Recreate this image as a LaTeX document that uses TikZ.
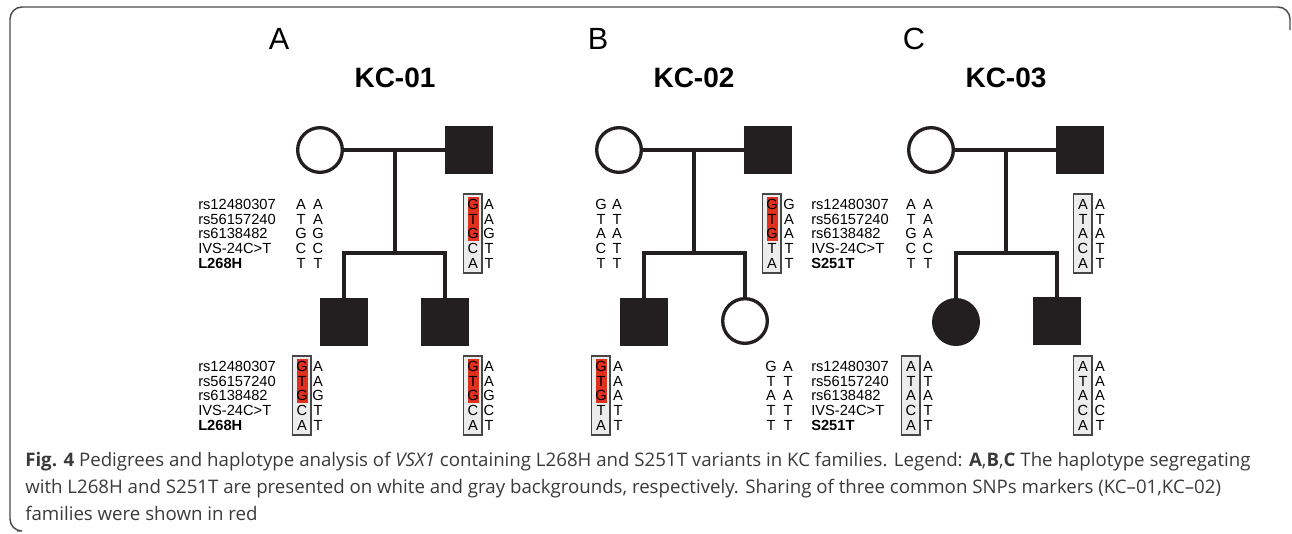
\documentclass[tikz,border=0pt]{standalone}
\usepackage{fontspec}
\setmainfont{Liberation Sans}
\newfontfamily\capfont{Open Sans}
\definecolor{pedblack}{HTML}{231F20}
\definecolor{hapred}{HTML}{E0301E}
\definecolor{boxgray}{HTML}{ECECEC}
\definecolor{captxt}{HTML}{3A3A3A}
\definecolor{framegray}{HTML}{4A4A4A}
\newcommand\hapcols[5]{% #1 name, #2 x1, #3 x2, #4 y0, #5 list
  \foreach \a/\b [count=\i from 0] in {#5} {
    \node[allele] (#1a\i) at (#2,{#4+\i*14.75}) {\a};
    \node[allele] (#1b\i) at (#3,{#4+\i*14.75}) {\b};
  }}
\newcommand\haplabels[4]{% #1 name, #2 x, #3 y0, #4 variant
  \foreach \t [count=\i from 0] in {rs12480307,rs56157240,rs6138482,IVS-24C>T,\textbf{#4}} {
    \node[lbl] (#1l\i) at (#2,{#3+\i*14.75}) {\t};
  }}
\newcommand\hapframe[2]{\draw[hapbox] ({#1-9.5},{#2-10}) rectangle ({#1+9},{#2+69});}
\newcommand\hapredfill[2]{\fill[hapred] ({#1-5.5},{#2-7}) rectangle ({#1+6},{#2+37});}
\begin{document}
\begin{tikzpicture}[x=0.75pt,y=-0.75pt,
  pline/.style={line width=3pt, draw=pedblack, line join=miter},
  msq/.style={rectangle, fill=pedblack, minimum size=36pt, inner sep=0pt},
  fcirc/.style={circle, draw=pedblack, line width=2.5pt, fill=white, minimum size=33.5pt, inner sep=0pt},
  acirc/.style={circle, fill=pedblack, minimum size=36pt, inner sep=0pt},
  allele/.style={font=\fontsize{11pt}{12pt}\selectfont, text height=7.9pt, text depth=0pt, inner sep=0pt, anchor=center},
  lbl/.style={allele, anchor=west},
  hapbox/.style={draw=black!72, line width=0.9pt, fill=boxgray},
  panel/.style={font=\fontsize{23pt}{26pt}\selectfont, inner sep=0pt},
  fam/.style={font=\fontsize{21pt}{24pt}\selectfont\bfseries, inner sep=0pt},
  capline/.style={font=\capfont\fontsize{14pt}{16pt}\selectfont, text=captxt, anchor=base west, inner sep=0pt}
]
\useasboundingbox (0,0) rectangle (1292,533);
% frame
\draw[framegray, line width=1.1pt, rounded corners=9pt] (1290,30) -- (1290,7) -- (10,7) -- (10,531) -- (17,531);

% titles
\node[panel] (tA) at (279,39) {A};
\node[panel] (tB) at (598,39) {B};
\node[panel] (tC) at (914,39) {C};
\node[fam] (kA) at (395,78) {KC-01};
\node[fam] (kB) at (694,78) {KC-02};
\node[fam] (kC) at (1006,78) {KC-03};

% ---------- Pedigree A ----------
\node[fcirc] (mA) at (320,150) {};
\node[msq] (fA) at (469,150) {};
\node[msq] (cA1) at (344,322) {};
\node[msq] (cA2) at (445,322) {};
\draw[pline] (mA) -- (fA);
\coordinate (dA) at (394.5,150);
\coordinate (sA) at (394.5,253);
\draw[pline] (dA) -- (sA);
\draw[pline] (cA1) |- (sA) -| (cA2);

% ---------- Pedigree B ----------
\node[fcirc] (mB) at (619,150) {};
\node[msq] (fB) at (768,150) {};
\node[msq] (cB1) at (644,322) {};
\node[fcirc] (cB2) at (745,321) {};
\draw[pline] (mB) -- (fB);
\coordinate (dB) at (693.5,150);
\coordinate (sB) at (693.5,253);
\draw[pline] (dB) -- (sB);
\draw[pline] (cB1) |- (sB) -| (cB2);

% ---------- Pedigree C ----------
\node[fcirc] (mC) at (931,150) {};
\node[msq] (fC) at (1080,150) {};
\node[acirc] (cC1) at (956,322) {};
\node[msq] (cC2) at (1057,321) {};
\draw[pline] (mC) -- (fC);
\coordinate (dC) at (1005.5,150);
\coordinate (sC) at (1005.5,253);
\draw[pline] (dC) -- (sC);
\draw[pline] (cC1) |- (sC) -| (cC2);

% ---------- haplotype frames ----------
\hapframe{473}{204} \hapredfill{473}{204}
\hapframe{302}{366} \hapredfill{302}{366}
\hapframe{473}{366} \hapredfill{473}{366}
\hapframe{772}{204} \hapredfill{772}{204}
\hapframe{601}{366} \hapredfill{601}{366}
\hapframe{1083}{204}
\hapframe{911}{366}
\hapframe{1083}{366}

% ---------- haplotype texts ----------
\haplabels{LA1}{198}{204}{L268H}
\haplabels{LA2}{198}{366}{L268H}
\haplabels{LC1}{811}{204}{S251T}
\haplabels{LC2}{811}{366}{S251T}

\hapcols{hmA}{301}{318}{204}{A/A,T/A,G/G,C/C,T/T}
\hapcols{hfA}{473}{489}{204}{G/A,T/A,G/G,C/T,A/T}
\hapcols{hcAa}{302}{318}{366}{G/A,T/A,G/G,C/T,A/T}
\hapcols{hcAb}{473}{489}{366}{G/A,T/A,G/G,C/C,A/T}

\hapcols{hmB}{601}{617}{204}{G/A,T/T,A/A,C/T,T/T}
\hapcols{hfB}{772}{789}{204}{G/G,T/A,G/A,T/T,A/T}
\hapcols{hcBa}{601}{618}{366}{G/A,T/A,G/A,T/T,A/T}
\hapcols{hcBb}{771}{788}{366}{G/A,T/T,A/A,T/T,T/T}

\hapcols{hmC}{911}{928}{204}{A/A,T/A,G/A,C/C,T/T}
\hapcols{hfC}{1083}{1100}{204}{A/A,T/T,A/A,C/T,A/T}
\hapcols{hcCa}{911}{928}{366}{A/A,T/T,A/A,C/T,A/T}
\hapcols{hcCb}{1083}{1100}{366}{A/A,T/A,A/A,C/C,A/T}

% ---------- caption ----------
\node[capline] (cap1) at (25,466) {\textbf{Fig. 4} Pedigrees and haplotype analysis of \textit{VSX1} containing L268H and S251T variants in KC families. Legend: \textbf{A},\textbf{B},\textbf{C} The haplotype segregating};
\node[capline] (cap2) at (25,493) {with L268H and S251T are presented on white and gray backgrounds, respectively. Sharing of three common SNPs markers (KC–01,KC–02)};
\node[capline] (cap3) at (25,520) {families were shown in red};
\end{tikzpicture}
\end{document}
